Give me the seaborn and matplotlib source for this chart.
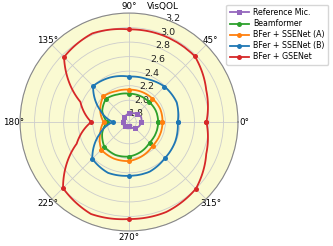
import numpy as np
import matplotlib
matplotlib.use("Agg")
import matplotlib.pyplot as plt
from matplotlib.transforms import ScaledTranslation
import seaborn as sns

# === Data (VisQOL vs. direction, read every 22.5 deg; markers every 45 deg) ===
angles_deg = [0, 22.5, 45, 67.5, 90, 112.5, 135, 157.5,
              180, 202.5, 225, 247.5, 270, 292.5, 315, 337.5]

ref_mic = [1.87, 1.88, 1.86, 1.83, 1.82, 1.80, 1.80, 1.78,
           1.78, 1.76, 1.77, 1.76, 1.75, 1.78, 1.82, 1.85]
beamformer = [2.10, 2.10, 2.09, 2.09, 2.09, 2.11, 2.15, 2.10,
              2.00, 2.10, 2.18, 2.19, 2.175, 2.14, 2.10, 2.10]
sse_a = [2.16, 2.165, 2.155, 2.15, 2.145, 2.16, 2.20, 2.13,
         2.05, 2.13, 2.24, 2.245, 2.237, 2.20, 2.16, 2.16]
sse_b = [2.37, 2.41, 2.39, 2.34, 2.325, 2.365, 2.40, 2.13,
         1.92, 2.14, 2.415, 2.457, 2.44, 2.44, 2.40, 2.39]
gse = [2.765, 2.85, 2.98, 2.98, 2.975, 3.02, 2.965, 2.425,
       2.22, 2.48, 2.985, 3.07, 3.035, 3.04, 3.00, 2.85]

series_names = ["Reference Mic.", "Beamformer", "BFer + SSENet (A)",
                "BFer + SSENet (B)", "BFer + GSENet"]
series_values = [ref_mic, beamformer, sse_a, sse_b, gse]
series_colors = ["#9467bd", "#2ca02c", "#ff7f0e", "#1f77b4", "#d62728"]
series_markers = ["s", "o", "o", "o", "o"]

r_ticks = [1.8, 2.0, 2.2, 2.4, 2.6, 2.8, 3.0, 3.2]

# === Plot ===
fig = plt.figure(figsize=(3.33, 2.46), dpi=100)
ax = fig.add_axes([0.060, 0.061, 0.655, 0.886], projection="polar")
ax.set_facecolor("#fafad2")

# close each loop by repeating the first point at 360 deg
theta = np.deg2rad(angles_deg + [360])
for name, vals, col, mk in zip(series_names, series_values, series_colors, series_markers):
    sns.lineplot(x=theta, y=vals + vals[:1], ax=ax, color=col, marker=mk,
                 markersize=3.6, markeredgewidth=0, linewidth=1.3,
                 markevery=2, sort=False, estimator=None, label=name)

# draw segments as arcs/spirals in polar space instead of straight chords
for ln in ax.get_lines():
    ln.get_path()._interpolation_steps = 40

ax.set_ylim(1.7, 3.2)
ax.set_yticks(r_ticks)
ax.set_yticklabels([f"{t:.1f}" for t in r_ticks], fontsize=6.8, color="#222222")
ax.set_rlabel_position(69)
ax.tick_params(axis="y", pad=-1.5)
ax.set_xticks(np.deg2rad(np.arange(0, 360, 45)))
ax.set_xticklabels([f"{a}°" for a in range(0, 360, 45)], fontsize=6.3)
ax.tick_params(axis="x", pad=-6)
ax.grid(color="#cccccc", linewidth=0.6)
ax.spines["polar"].set_color("#888888")
ax.set_xlabel("")
ax.set_ylabel("")

fig.text(0.49, 0.974, "VisQOL", fontsize=6.4, ha="center", va="center")

handles, labels = ax.get_legend_handles_labels()
ax.get_legend().remove()
fig.legend(handles, labels, loc="upper right", bbox_to_anchor=(0.998, 0.997),
           fontsize=5.7, handlelength=2.4, borderpad=0.45, labelspacing=0.26,
           handletextpad=0.6, framealpha=0.8)

# nudge radial labels a little down/left onto the label ray
fig.canvas.draw()
nudge = ScaledTranslation(-0.025, -0.03, fig.dpi_scale_trans)
for lbl in ax.yaxis.get_majorticklabels():
    lbl.set_transform(lbl.get_transform() + nudge)

fig.savefig("out.png", dpi=100)
